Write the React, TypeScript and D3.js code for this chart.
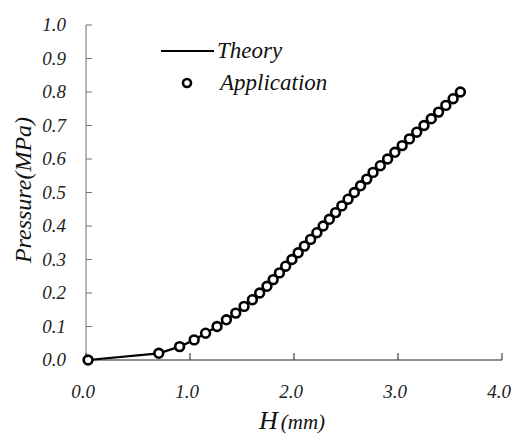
import React from "react";
import * as d3 from "d3";

// Pressure (MPa) sampled every 0.02 MPa, with the matching H (mm)
const pressure: number[] = [
  0.0, 0.02, 0.04, 0.06, 0.08, 0.1, 0.12, 0.14, 0.16, 0.18, 0.2, 0.22, 0.24, 0.26,
  0.28, 0.3, 0.32, 0.34, 0.36, 0.38, 0.4, 0.42, 0.44, 0.46, 0.48, 0.5, 0.52, 0.54,
  0.56, 0.58, 0.6, 0.62, 0.64, 0.66, 0.68, 0.7, 0.72, 0.74, 0.76, 0.78, 0.8,
];
const displacement: number[] = [
  0.02, 0.7, 0.9, 1.04, 1.15, 1.26, 1.35, 1.44, 1.52, 1.6, 1.67, 1.74, 1.8, 1.86,
  1.92, 1.98, 2.04, 2.1, 2.16, 2.22, 2.28, 2.34, 2.4, 2.46, 2.52, 2.58, 2.64, 2.7,
  2.76, 2.83, 2.9, 2.97, 3.04, 3.11, 3.18, 3.25, 3.32, 3.39, 3.46, 3.53, 3.6,
];
const xTicks: number[] = [0, 1, 2, 3, 4];
const yTicks: number[] = [0, 0.1, 0.2, 0.3, 0.4, 0.5, 0.6, 0.7, 0.8, 0.9, 1.0];
const seriesNames: string[] = ["Theory", "Application"];

const SERIF = '"Times New Roman", "Liberation Serif", Tinos, FreeSerif, serif';

type TProps = React.SVGProps<SVGTextElement> & { size: number };
function T({ size, children, ...rest }: TProps) {
  return (
    <text
      {...rest}
      fontFamily={SERIF}
      fontStyle="italic"
      fontSize={size}
      style={{ fontFamily: SERIF, fontStyle: "italic", fontSize: size }}
    >
      {children}
    </text>
  );
}

export default function App() {
  const x = d3.scaleLinear().domain([0, 4]).range([86, 502]);
  const y = d3.scaleLinear().domain([0, 1]).range([360, 25]);
  const pts = pressure.map((p, i) => ({ h: displacement[i], p }));
  const line = d3
    .line<{ h: number; p: number }>()
    .x((d) => x(d.h))
    .y((d) => y(d.p));

  return (
    <svg
      width={512}
      height={436}
      style={{ position: "absolute", left: 0, top: 0, display: "block", background: "#fff" }}
    >
      {/* y axis */}
      <line x1={x(0)} x2={x(0)} y1={y(0)} y2={y(1)} stroke="#707070" strokeWidth={1} />
      {yTicks.map((t) => (
        <g key={"y" + t}>
          <line x1={x(0)} x2={x(0) + 6} y1={y(t)} y2={y(t)} stroke="#707070" strokeWidth={1} />
          <T x={66} y={y(t) + 6} textAnchor="end" size={19} fill="#222">
            {t.toFixed(1)}
          </T>
        </g>
      ))}
      {/* x axis */}
      <line x1={x(0)} x2={x(4)} y1={y(0)} y2={y(0)} stroke="#222" strokeWidth={1} />
      {xTicks.map((t) => (
        <g key={"x" + t}>
          <line x1={x(t)} x2={x(t)} y1={y(0)} y2={y(0) - 7} stroke="#222" strokeWidth={1} />
          <T x={x(t) - 3} y={398} textAnchor="middle" size={19} fill="#222">
            {t.toFixed(1)}
          </T>
        </g>
      ))}
      {/* axis titles */}
      <T x={292} y={429} textAnchor="middle" fill="#111" size={21}>
        <tspan fontSize={26} style={{ fontSize: 26 }}>H</tspan>
        <tspan dx={3}>(mm)</tspan>
      </T>
      <T transform={`translate(31,190) rotate(-90)`} textAnchor="middle" size={24} fill="#111">
        Pressure(MPa)
      </T>

      {/* theory curve */}
      <path d={line(pts) ?? ""} fill="none" stroke="#000" strokeWidth={2.2} />
      {/* measured points */}
      {pts.map((d, i) => (
        <circle
          key={i}
          cx={x(d.h)}
          cy={y(d.p)}
          r={4.4}
          fill="#fff"
          stroke="#000"
          strokeWidth={2.6}
        />
      ))}

      {/* legend */}
      <line x1={161} x2={214} y1={51} y2={51} stroke="#000" strokeWidth={2.2} />
      <T x={217} y={58} size={23} fill="#111">
        {seriesNames[0]}
      </T>
      <circle cx={187} cy={83} r={4} fill="#fff" stroke="#000" strokeWidth={2.6} />
      <T x={220} y={90} size={23} fill="#111">
        {seriesNames[1]}
      </T>
    </svg>
  );
}
